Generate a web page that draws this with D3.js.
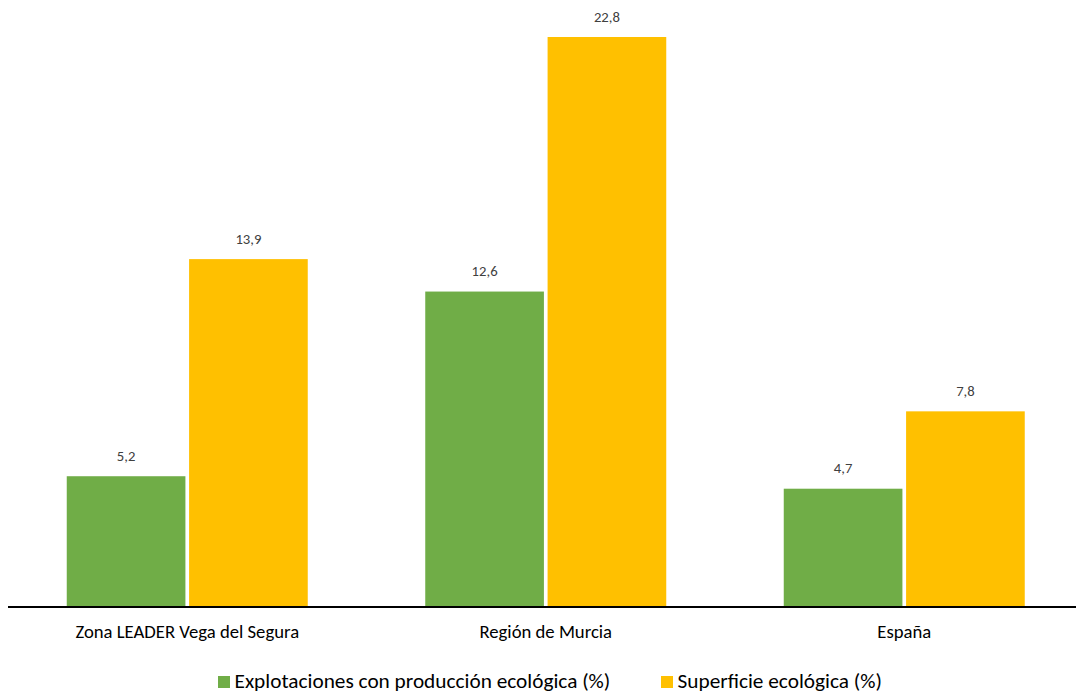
<!DOCTYPE html>
<html>
<head>
<meta charset="utf-8">
<script src="https://cdn.jsdelivr.net/npm/d3@7"></script>
<style>
  body { margin: 0; background: #fff; }
  svg { display: block; font-family: Carlito, Lato, "Open Sans", sans-serif; }
</style>
</head>
<body>
<svg id="chart" width="1076" height="696"></svg>
<script>
// data
const categories = ['Zona LEADER Vega del Segura', 'Región de Murcia', 'España'];
const seriesNames = ['Explotaciones con producción ecológica (%)', 'Superficie ecológica (%)'];
const explotaciones = [5.2, 12.6, 4.7];
const superficie = [13.9, 22.8, 7.8];
const colors = ['#70ad47', '#ffc000'];

const svg = d3.select('#chart');

const rows = categories.map((c, i) => ({cat: c, values: [explotaciones[i], superficie[i]]}));

// x scales: one per category, one inside each group
const x0 = d3.scaleBand()
    .domain(categories)
    .range([8, 1083.5]);

const groupWidth = 241;
const x1 = d3.scaleBand()
    .domain([0, 1])
    .range([0, groupWidth])
    .paddingInner(0.03);

const y = d3.scaleLinear()
    .domain([0, 22.8])
    .range([606, 37]);

const fmt = v => v.toFixed(1).replace('.', ',');

// bars
const group = svg.selectAll('.group')
    .data(rows)
    .enter().append('g')
    .attr('class', 'group')
    .attr('transform', d => 'translate(' + (x0(d.cat) + x0.bandwidth() / 2 - groupWidth / 2) + ',0)');

group.selectAll('rect')
    .data(d => d.values)
    .enter().append('rect')
    .attr('x', (d, i) => x1(i))
    .attr('y', d => y(d))
    .attr('width', x1.bandwidth())
    .attr('height', d => y(0) - y(d))
    .style('fill', (d, i) => colors[i]);

// value labels
group.selectAll('.val')
    .data(d => d.values)
    .enter().append('text')
    .attr('class', 'val')
    .attr('x', (d, i) => x1(i) + x1.bandwidth() / 2)
    .attr('y', d => y(d) - 15.5)
    .attr('text-anchor', 'middle')
    .style('font-size', '14.7px')
    .style('fill', '#404040')
    .text(fmt);

// x axis
const xAxis = svg.append('g')
    .attr('transform', 'translate(0,607)')
    .call(d3.axisBottom(x0).tickSize(0).tickPadding(17));

xAxis.select('.domain')
    .attr('d', 'M8,0H1076')
    .style('stroke', '#000')
    .style('stroke-width', 2);

xAxis.selectAll('text')
    .attr('dy', null)
    .attr('y', 31)
    .style('font-family', 'Carlito, Lato, "Open Sans", sans-serif')
    .style('font-size', '18.7px')
    .style('fill', '#000');

// legend
const legendX = [218, 661];
const legend = svg.selectAll('.legend-item')
    .data(seriesNames)
    .enter().append('g')
    .attr('class', 'legend-item')
    .attr('transform', (d, i) => 'translate(' + legendX[i] + ',676)');

legend.append('rect')
    .attr('width', 12)
    .attr('height', 12)
    .style('fill', (d, i) => colors[i]);

legend.append('text')
    .attr('x', 16.5)
    .attr('y', 11.5)
    .style('font-size', '21.3px')
    .style('fill', '#000')
    .text(d => d);
</script>
</body>
</html>
